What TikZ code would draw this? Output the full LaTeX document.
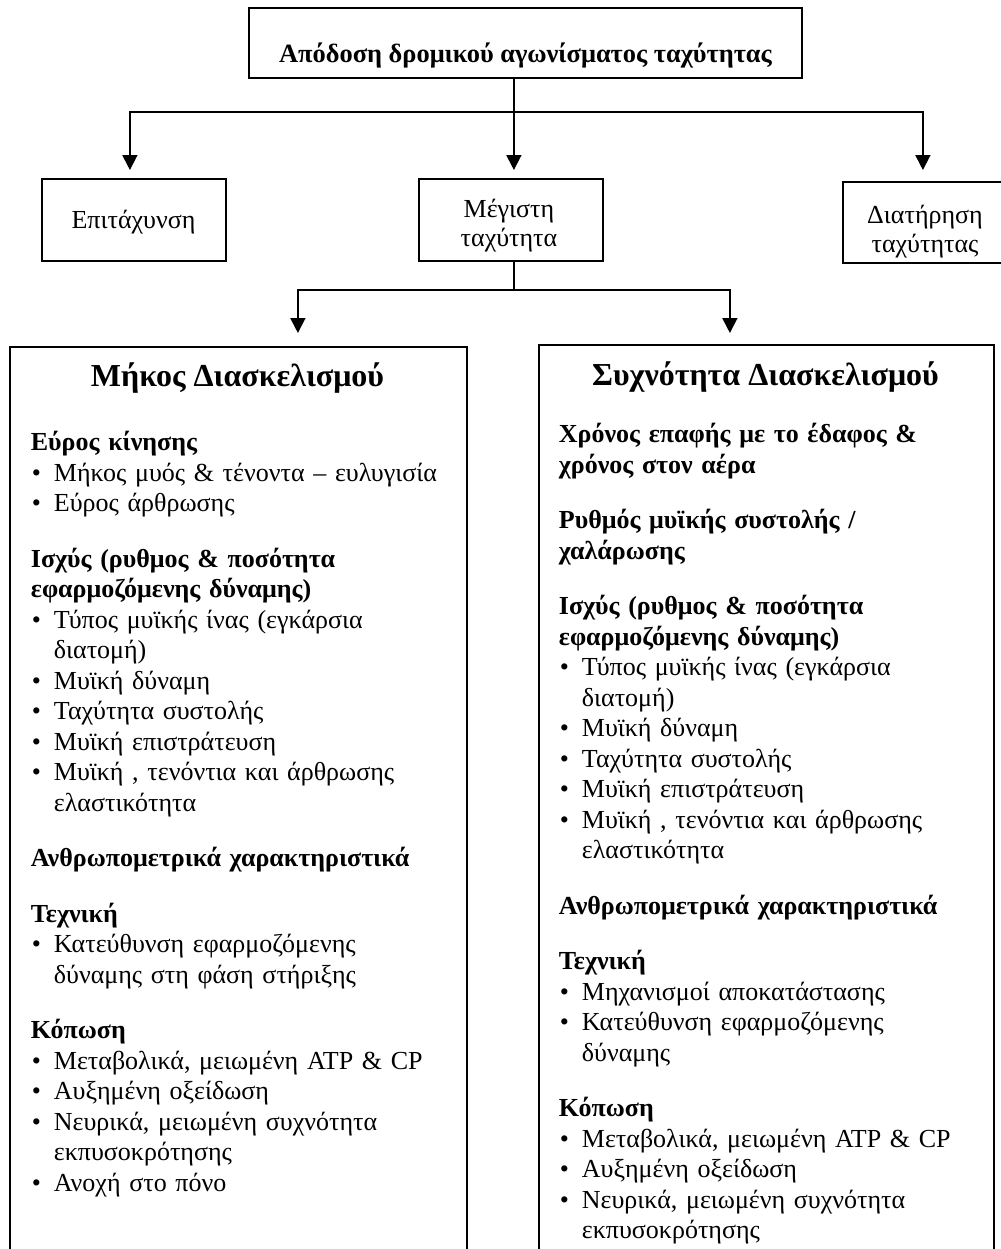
\documentclass[tikz,border=0pt]{standalone}
\usepackage{fontspec}
\setmainfont{Liberation Serif}
\usepackage{tikz}
\usetikzlibrary{arrows.meta}

\newcommand{\bitem}{\makebox[11.5pt][l]{\hspace{0.5pt}\textbullet}}
\newcommand{\bcont}{\hspace*{11.5pt}}

\tikzset{
	topbox/.style={draw, inner sep=0pt, minimum width=276.5pt, text height=27pt, text depth=8pt, font=\fontsize{13.2pt}{15.25pt}\selectfont\bfseries},
	smallbox/.style={draw, inner sep=0pt, anchor=north west, minimum width=92pt, minimum height=41pt},
	boxlabel/.style={inner sep=0pt, align=center, font=\fontsize{13pt}{14.5pt}\selectfont},
	bigbox/.style={draw, inner sep=0pt, anchor=north west},
	boxtitle/.style={anchor=base, inner sep=0pt, font=\fontsize{16pt}{18pt}\selectfont\bfseries},
	boxtext/.style={anchor=north west, inner sep=0pt, text width=218pt, align=left, font=\fontsize{13pt}{15.25pt}\selectfont}
}

\begin{document}
\begin{tikzpicture}[x=0.5pt,y=-0.5pt,line width=0.9pt,>={Triangle[width=7.5pt,length=7.5pt]}]
	\useasboundingbox (0,0) rectangle (1001,1249);

	\node[topbox]   (Perf) at (525.5,43) {Απόδοση δρομικού αγωνίσματος ταχύτητας};

	\node[smallbox] (Acc)  at (41,178)  {};
	\node[smallbox] (Vmax) at (418,178) {};
	\node[smallbox, minimum width=100pt, minimum height=40.5pt] (Keep) at (842,181) {};
	\node[boxlabel] (AccText)  at (133.5,222) {Επιτάχυνση};
	\node[boxlabel] (VmaxText) at (509,226)   {Μέγιστη\\ταχύτητα};
	\node[boxlabel] (KeepText) at (925,232)   {Διατήρηση\\ταχύτητας};

	\node[bigbox, minimum width=228.5pt, minimum height=462pt] (Len)  at (9,346)   {};
	\node[bigbox, minimum width=227.5pt, minimum height=464pt] (Freq) at (538,344) {};

	\draw [->, shorten >=4pt]   ([xshift=1.5pt]Perf.south -| Vmax.north) -- ([xshift=1.5pt]Vmax.north);
	\draw [->, shorten >=4pt]   ([xshift=1.5pt]Perf.south -| Vmax.north) -- ++(0,33) -| ([xshift=-2pt]Acc.north);
	\draw [->, shorten >=5.5pt] ([xshift=1.5pt]Perf.south -| Vmax.north) -- ++(0,33) -| ([xshift=-10pt]Keep.north);
	\draw [->, shorten >=6.5pt] ([xshift=1.5pt]Vmax.south) -- ++(0,28) -| ([xshift=29.75pt]Len.north);
	\draw [->, shorten >=5.5pt] ([xshift=1.5pt]Vmax.south) -- ++(0,28) -| ([xshift=-18.25pt]Freq.north);

	\node[boxtitle] (LenTitle)  at (237.5,386) {Μήκος Διασκελισμού};
	\node[boxtitle] (FreqTitle) at (765.5,385) {Συχνότητα Διασκελισμού};

	\node[boxtext] (LenText) at (30,428.5) {\strut\textbf{Εύρος κίνησης}\\
		\bitem Μήκος μυός \& τένοντα – ευλυγισία\\
		\bitem Εύρος άρθρωσης\\[12.5pt]
		\textbf{Ισχύς (ρυθμος \& ποσότητα}\\
		\textbf{εφαρμοζόμενης δύναμης)}\\
		\bitem Τύπος μυϊκής ίνας (εγκάρσια\\
		\bcont διατομή)\\
		\bitem Μυϊκή δύναμη\\
		\bitem Ταχύτητα συστολής\\
		\bitem Μυϊκή επιστράτευση\\
		\bitem Μυϊκή , τενόντια και άρθρωσης\\
		\bcont ελαστικότητα\\[12.5pt]
		\textbf{Ανθρωπομετρικά χαρακτηριστικά}\\[12.5pt]
		\textbf{Τεχνική}\\
		\bitem Κατεύθυνση εφαρμοζόμενης\\
		\bcont δύναμης στη φάση στήριξης\\[12.5pt]
		\textbf{Κόπωση}\\
		\bitem Μεταβολικά, μειωμένη ATP \& CP\\
		\bitem Αυξημένη οξείδωση\\
		\bitem Νευρικά, μειωμένη συχνότητα\\
		\bcont εκπυσοκρότησης\\
		\bitem Ανοχή στο πόνο};

	\node[boxtext] (FreqText) at (558,420.5) {\strut\textbf{Χρόνος επαφής με το έδαφος \&}\\
		\textbf{χρόνος στον αέρα}\\[12.5pt]
		\textbf{Ρυθμός μυϊκής συστολής /}\\
		\textbf{χαλάρωσης}\\[12.5pt]
		\textbf{Ισχύς (ρυθμος \& ποσότητα}\\
		\textbf{εφαρμοζόμενης δύναμης)}\\
		\bitem Τύπος μυϊκής ίνας (εγκάρσια\\
		\bcont διατομή)\\
		\bitem Μυϊκή δύναμη\\
		\bitem Ταχύτητα συστολής\\
		\bitem Μυϊκή επιστράτευση\\
		\bitem Μυϊκή , τενόντια και άρθρωσης\\
		\bcont ελαστικότητα\\[12.5pt]
		\textbf{Ανθρωπομετρικά χαρακτηριστικά}\\[12.5pt]
		\textbf{Τεχνική}\\
		\bitem Μηχανισμοί αποκατάστασης\\
		\bitem Κατεύθυνση εφαρμοζόμενης\\
		\bcont δύναμης\\[12.5pt]
		\textbf{Κόπωση}\\
		\bitem Μεταβολικά, μειωμένη ATP \& CP\\
		\bitem Αυξημένη οξείδωση\\
		\bitem Νευρικά, μειωμένη συχνότητα\\
		\bcont εκπυσοκρότησης};
\end{tikzpicture}
\end{document}
